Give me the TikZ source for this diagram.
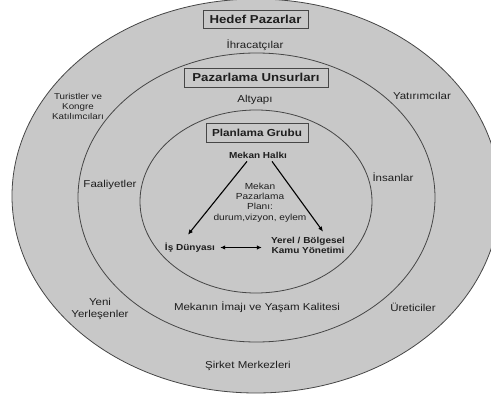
\documentclass[tikz,border=0pt]{standalone}
\usepackage{fontspec}
\setmainfont[FakeStretch=1.15]{Liberation Sans}
\usetikzlibrary{arrows.meta}
\definecolor{ringfill}{RGB}{200,200,200}
\definecolor{ringline}{RGB}{70,70,70}
\definecolor{txt}{RGB}{30,30,30}
\tikzset{
  ring/.style={fill=ringfill,draw=ringline,line width=0.8pt},
  titlebox/.style={draw=ringline,line width=0.8pt,font=\fontsize{11.5}{13}\selectfont\bfseries,text=txt,inner xsep=0pt,inner ysep=0pt},
  lbl/.style={font=\fontsize{10}{12}\selectfont,text=txt,align=center,inner sep=0pt},
  small/.style={font=\fontsize{8.5}{10}\selectfont,text=txt,align=center,inner sep=0pt},
  smallb/.style={font=\fontsize{8.7}{10}\selectfont\bfseries,text=txt,align=center,inner sep=0pt},
  arr/.style={line width=1.1pt,-{Latex[length=5pt,width=4.5pt]}},
  darr/.style={line width=1.1pt,{Latex[length=5pt,width=4.5pt]}-{Latex[length=5pt,width=4.5pt]}}
}
\begin{document}
\begin{tikzpicture}[x=1pt,y=-1pt]
\useasboundingbox (0,0) rectangle (491,398);
\clip (0,0) rectangle (491,398);
\fill[white] (0,0) rectangle (491,398);
% rings
\draw[ring] (256,196) ellipse [x radius=244, y radius=197];
\draw[ring] (256.5,197.5) ellipse [x radius=178.5, y radius=144.5];
\draw[ring] (256,201.5) ellipse [x radius=116, y radius=91.5];
% titles
\node[titlebox,minimum width=105pt,minimum height=18pt] (hedef) at (255.5,19) {Hedef Pazarlar};
\node[titlebox,minimum width=144pt,minimum height=19pt] (pu) at (256,77.5) {Pazarlama Unsurları};
\node[titlebox,minimum width=102pt,minimum height=19pt,font=\fontsize{10.2}{12}\selectfont\bfseries] (pg) at (257,132.5) {Planlama Grubu};
% outer ring labels
\node[lbl] (ihr) at (255,45) {İhracatçılar};
\node[small] (tur) at (78,106) {Turistler ve\\Kongre\\Katılımcıları};
\node[lbl] (yat) at (422,96) {Yatırımcılar};
\node[lbl] (yeni) at (100,309) {Yeni\\Yerleşenler};
\node[lbl] (ure) at (413,307) {Üreticiler};
\node[lbl] (sirk) at (248,366) {Şirket Merkezleri};
% middle ring labels
\node[lbl] (alt) at (255,100) {Altyapı};
\node[lbl] (faal) at (110,185) {Faaliyetler};
\node[lbl] (ins) at (393,177) {İnsanlar};
\node[lbl] (mek) at (257,307) {Mekanın İmajı ve Yaşam Kalitesi};
% inner
\node[smallb] (mh) at (258,155) {Mekan Halkı};
\node[small,font=\fontsize{8.8}{10.3}\selectfont] (plan) at (260,202.5) {Mekan\\Pazarlama\\Planı:\\durum,vizyon, eylem};
\node[smallb] (is) at (190,247.5) {İş Dünyası};
\node[smallb] (yerel) at (308,245) {Yerel / Bölgesel\\Kamu Yönetimi};
% arrows
\draw[arr] ([xshift=-11pt,yshift=-3pt]mh.south) -- ([xshift=-2pt,yshift=8pt]is.north);
\draw[arr] ([xshift=14pt,yshift=-3pt]mh.south) -- ([xshift=15pt,yshift=5pt]yerel.north);
\draw[darr] ([xshift=5pt]is.east) -- ([xshift=-9pt]is.east -| yerel.west);
\end{tikzpicture}
\end{document}
